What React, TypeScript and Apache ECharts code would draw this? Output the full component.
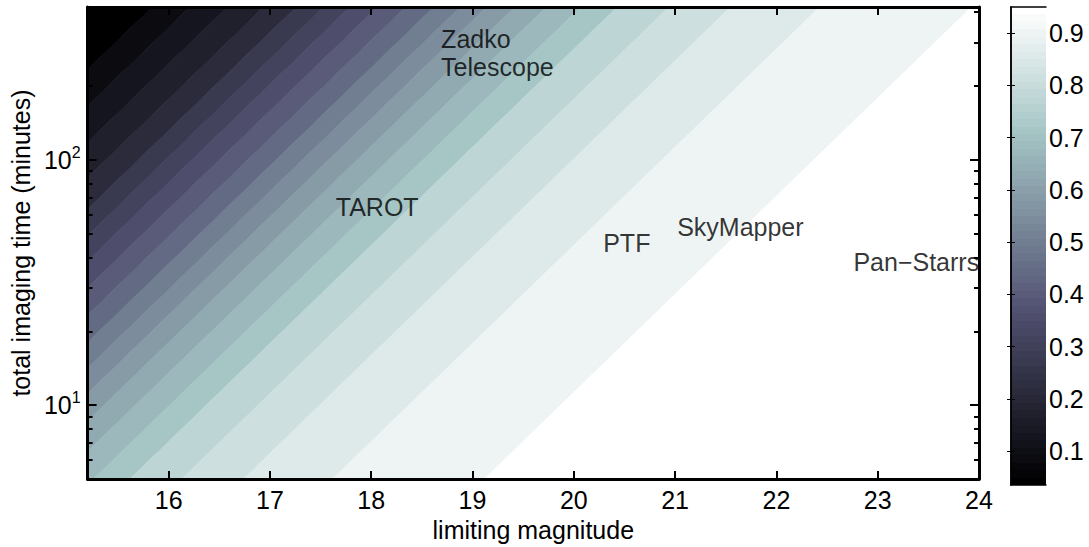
import React, { useEffect, useRef } from 'react';
import * as echarts from 'echarts';

// ---- data ----
const magRange = [15.2, 24];            // limiting magnitude axis
const timeRange = [5, 420];             // total imaging time (minutes), log axis
const colorRange = [0.035, 0.95];       // colour bar range
const magTicks = [16, 17, 18, 19, 20, 21, 22, 23, 24];
const timeMajorTicks = [10, 100];
const timeMinorTicks = [5, 6, 7, 8, 9, 20, 30, 40, 50, 60, 70, 80, 90, 200, 300, 400];
const colorbarTicks = [0.1, 0.2, 0.3, 0.4, 0.5, 0.6, 0.7, 0.8, 0.9];
// contour boundaries, given as the limiting magnitude reached in 1 minute
// (each boundary follows m = m1 + 2.5 log10 t)
const contourEdgeMag1min = [9.28, 9.65, 10.02, 10.38, 10.7, 10.97, 11.23, 11.5, 11.78, 12.06,
  12.32, 12.58, 12.86, 13.17, 13.51, 13.87, 14.38, 14.99, 15.87, 17.37];
// value of each filled band (from darkest to lightest)
const bandValues = [0.035, 0.081, 0.127, 0.172, 0.218, 0.264, 0.31, 0.355, 0.401, 0.447, 0.493,
  0.538, 0.584, 0.63, 0.676, 0.721, 0.767, 0.813, 0.859, 0.904, 0.95];
const labelNames = ['Zadko\nTelescope', 'TAROT', 'PTF', 'SkyMapper', 'Pan\u2212Starrs'];
const labelMag = [18.69, 17.65, 20.29, 21.02, 22.76];
const labelTime = [273, 64.5, 45.8, 53.5, 38.3];

const SLOPE = 2.5;
const FONT = '"Liberation Sans", Arial, Helvetica, sans-serif';
const FS = 25;

// MATLAB "bone" colormap, 64 entries
function boneColor(i: number): string {
  const m = 64;
  const gray = i / (m - 1);
  const cl = (v: number) => Math.max(0, Math.min(1, v));
  const hr = cl((i + 1) / 24);
  const hg = cl((i + 1 - 24) / 24);
  const hb = cl((i + 1 - 48) / 16);
  const r = (7 * gray + hb) / 8;
  const g = (7 * gray + hg) / 8;
  const b = (7 * gray + hr) / 8;
  return `rgb(${Math.round(r * 255)},${Math.round(g * 255)},${Math.round(b * 255)})`;
}
const bone = Array.from({ length: 64 }, (_, i) => boneColor(i));
function colorFor(v: number): string {
  const t = (v - colorRange[0]) / (colorRange[1] - colorRange[0]);
  const idx = Math.max(0, Math.min(63, Math.floor(t * 64)));
  return bone[idx];
}

function clipX(poly: number[][], x0: number, keepGreater: boolean): number[][] {
  const out: number[][] = [];
  const inside = (p: number[]) => (keepGreater ? p[0] >= x0 : p[0] <= x0);
  for (let i = 0; i < poly.length; i++) {
    const a = poly[i];
    const b = poly[(i + 1) % poly.length];
    const ia = inside(a), ib = inside(b);
    if (ia) out.push(a);
    if (ia !== ib) {
      const t = (x0 - a[0]) / (b[0] - a[0]);
      out.push([x0, a[1] + t * (b[1] - a[1])]);
    }
  }
  return out;
}

export default function App() {
  const ref = useRef<HTMLDivElement>(null);
  useEffect(() => {
    if (!ref.current) return;
    const chart = echarts.init(ref.current, null, { renderer: 'svg' });
    const L0 = Math.log10(timeRange[0]);
    const L1 = Math.log10(timeRange[1]);

    const bandData = bandValues.map((v, k) => [
      k === 0 ? 0 : contourEdgeMag1min[k - 1],
      k === bandValues.length - 1 ? 40 : contourEdgeMag1min[k],
      v,
    ]);

    const stops: any[] = [];
    for (let i = 0; i < 64; i++) {
      stops.push({ offset: i / 64, color: bone[i] });
      stops.push({ offset: (i + 1) / 64, color: bone[i] });
    }

    const black = '#000';
    const tickStyle = { color: black, width: 2 };
    const axisLine = { show: true, lineStyle: { color: black, width: 3 } };

    const mainY = (position: string, ticks: number[], len: number, labels: boolean, line: boolean) => ({
      type: 'value', gridIndex: 0, position, min: L0, max: L1, z: 10,
      axisLine: line ? axisLine : { show: false },
      axisTick: { show: true, inside: true, length: len, lineStyle: tickStyle,
        customValues: ticks.map((t) => Math.log10(t)) },
      axisLabel: labels ? {
        show: true, customValues: timeMajorTicks.map((t) => Math.log10(t)),
        margin: 7, color: black, fontFamily: FONT, fontSize: FS, lineHeight: 31,
        formatter: (v: number) => `10{s|${Math.round(v)}}`,
        rich: { s: { fontSize: 16, lineHeight: 16, verticalAlign: 'top', fontFamily: FONT, color: black } },
      } : { show: false },
      splitLine: { show: false },
      ...(labels ? {
        name: 'total imaging time (minutes)', nameLocation: 'middle', nameGap: 52,
        nameTextStyle: { color: black, fontFamily: FONT, fontSize: FS },
      } : {}),
    });

    const option: any = {
      animation: false,
      backgroundColor: '#fff',
      grid: [
        { left: 86, top: 7, width: 893, height: 478 },
        { left: 1011, top: 7, width: 35, height: 478 },
      ],
      xAxis: [
        {
          type: 'value', gridIndex: 0, position: 'bottom', min: magRange[0], max: magRange[1], z: 10,
          axisLine,
          axisTick: { show: true, inside: true, length: 8, lineStyle: tickStyle, customValues: magTicks },
          axisLabel: { show: true, customValues: magTicks, margin: 8, color: black, fontFamily: FONT, fontSize: FS },
          splitLine: { show: false },
          name: 'limiting magnitude', nameLocation: 'middle', nameGap: 34,
          nameTextStyle: { color: black, fontFamily: FONT, fontSize: FS },
        },
        {
          type: 'value', gridIndex: 0, position: 'top', min: magRange[0], max: magRange[1], z: 10,
          axisLine,
          axisTick: { show: true, inside: true, length: 8, lineStyle: tickStyle, customValues: magTicks },
          axisLabel: { show: false },
          splitLine: { show: false },
        },
        {
          type: 'value', gridIndex: 1, position: 'bottom', min: 0, max: 1, z: 10,
          axisLine: { show: true, lineStyle: { color: black, width: 1.5 } },
          axisTick: { show: false }, axisLabel: { show: false }, splitLine: { show: false },
        },
        {
          type: 'value', gridIndex: 1, position: 'top', min: 0, max: 1, z: 10,
          axisLine: { show: true, lineStyle: { color: black, width: 1.5 } },
          axisTick: { show: false }, axisLabel: { show: false }, splitLine: { show: false },
        },
      ],
      yAxis: [
        mainY('left', timeMajorTicks, 9, true, true),
        mainY('left', timeMinorTicks, 5, false, false),
        mainY('right', timeMajorTicks, 9, false, true),
        mainY('right', timeMinorTicks, 5, false, false),
        {
          type: 'value', gridIndex: 1, position: 'right', min: colorRange[0], max: colorRange[1], z: 10,
          axisLine: { show: true, lineStyle: { color: black, width: 1.5 } },
          axisTick: { show: true, inside: true, length: 4, lineStyle: { color: black, width: 1 }, customValues: colorbarTicks },
          axisLabel: { show: true, customValues: colorbarTicks, margin: 3, color: black, fontFamily: FONT, fontSize: FS,
            formatter: (v: number) => v.toFixed(1) },
          splitLine: { show: false },
        },
        {
          type: 'value', gridIndex: 1, position: 'left', min: colorRange[0], max: colorRange[1], z: 10,
          axisLine: { show: true, lineStyle: { color: black, width: 1.5 } },
          axisTick: { show: true, inside: true, length: 4, lineStyle: { color: black, width: 1 }, customValues: colorbarTicks },
          axisLabel: { show: false },
          splitLine: { show: false },
        },
      ],
      series: [
        {
          type: 'custom', xAxisIndex: 0, yAxisIndex: 0, z: 2, silent: true,
          data: bandData,
          encode: { x: 0, y: 1 },
          renderItem: (params: any, api: any) => {
            const lo = api.value(0), hi = api.value(1), v = api.value(2);
            let poly = [[lo + SLOPE * L0, L0], [hi + SLOPE * L0, L0], [hi + SLOPE * L1, L1], [lo + SLOPE * L1, L1]];
            poly = clipX(poly, magRange[0], true);
            poly = clipX(poly, magRange[1], false);
            if (poly.length < 3) return { type: 'group', children: [] };
            const pts = poly.map((p) => api.coord(p));
            const c = colorFor(v);
            return { type: 'polygon', shape: { points: pts }, style: { fill: c, stroke: c, lineWidth: 1 } };
          },
        },
        {
          type: 'custom', xAxisIndex: 2, yAxisIndex: 4, z: 2, silent: true,
          data: [[0, 1, colorRange[0], colorRange[1]]],
          encode: { x: 0, y: 2 },
          renderItem: (params: any, api: any) => {
            const p0 = api.coord([api.value(0), api.value(2)]);
            const p1 = api.coord([api.value(1), api.value(3)]);
            return {
              type: 'rect',
              shape: { x: p0[0], y: p1[1], width: p1[0] - p0[0], height: p0[1] - p1[1] },
              style: { fill: new echarts.graphic.LinearGradient(0, 1, 0, 0, stops) },
            };
          },
        },
        {
          type: 'scatter', xAxisIndex: 0, yAxisIndex: 0, z: 5, silent: true,
          symbolSize: 0, itemStyle: { color: 'transparent' },
          data: labelNames.map((n, i) => ({ name: n, value: [labelMag[i], Math.log10(labelTime[i])] })),
          label: {
            show: true, position: 'right', distance: 0, formatter: '{b}',
            color: black, fontFamily: FONT, fontSize: FS, lineHeight: 28, align: 'left',
          },
        },
      ],
    };
    chart.setOption(option);
    return () => chart.dispose();
  }, []);
  return <div ref={ref} style={{ position: 'absolute', left: 0, top: 0, width: 1089, height: 547, background: '#fff' }} />;
}
